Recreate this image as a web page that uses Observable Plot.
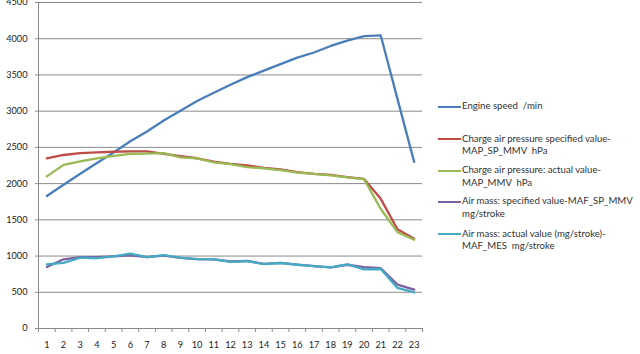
<!DOCTYPE html>
<html><head><meta charset="utf-8">
<script src="https://cdn.jsdelivr.net/npm/d3@7"></script>
<script src="https://cdn.jsdelivr.net/npm/@observablehq/plot@0.6"></script>
<style>
body{margin:0;background:#fff;}
#wrap{position:relative;width:640px;height:354px;font-family:Lato, "Liberation Sans", sans-serif;}
#legend .item{position:absolute;left:438px;display:flex;align-items:flex-start;font-size:9.6px;line-height:12.5px;color:#333;white-space:pre;}
#legend .swatch{width:23px;height:2px;margin-top:5.5px;margin-right:1px;flex:none;}
</style></head><body><div id="wrap"><div id="legend"></div></div>
<script>
const categories = [1,2,3,4,5,6,7,8,9,10,11,12,13,14,15,16,17,18,19,20,21,22,23];
const engineSpeed = [1830,1985,2135,2285,2430,2585,2720,2870,3005,3140,3255,3365,3470,3560,3650,3740,3810,3900,3975,4035,4045,3170,2300];
const mapSpecified = [2350,2395,2420,2432,2440,2445,2445,2410,2378,2350,2305,2272,2250,2218,2195,2158,2135,2120,2090,2065,1790,1370,1240];
const mapActual = [2100,2258,2308,2348,2382,2410,2414,2420,2363,2348,2292,2268,2228,2210,2185,2152,2135,2115,2085,2062,1650,1330,1225];
const mafSpecified = [848,955,985,985,995,1010,985,1005,975,958,955,925,932,892,905,882,862,845,880,848,832,605,537];
const mafActual = [885,905,978,970,995,1033,986,1013,978,958,953,920,930,890,904,880,862,845,885,815,821,560,500];
const yTicks = [0,500,1000,1500,2000,2500,3000,3500,4000,4500];
const seriesNames = [
  "Engine speed  /min",
  "Charge air pressure specified value-MAP_SP_MMV  hPa",
  "Charge air pressure: actual value-MAP_MMV  hPa",
  "Air mass: specified value-MAF_SP_MMV mg/stroke",
  "Air mass: actual value (mg/stroke)-MAF_MES  mg/stroke"
];
const legendLines = [
  ["Engine speed  /min"],
  ["Charge air pressure specified value-", "MAP_SP_MMV  hPa"],
  ["Charge air pressure: actual value-", "MAP_MMV  hPa"],
  ["Air mass: specified value-MAF_SP_MMV", "mg/stroke"],
  ["Air mass: actual value (mg/stroke)-", "MAF_MES  mg/stroke"]
];
const colors = ["#4A7EBB","#BE4B48","#98B954","#7D60A0","#46AAC5"];
const seriesValues = [engineSpeed, mapSpecified, mapActual, mafSpecified, mafActual];

const rows = [];
seriesValues.forEach((vals, si) => vals.forEach((v, i) => rows.push({x: categories[i], value: v, series: seriesNames[si]})));
const bounds = [categories[0] - 0.5, ...categories.map(c => c + 0.5)];

const gray = "#8a8a8a";
const chart = Plot.plot({
  width: 640, height: 354,
  marginLeft: 38, marginRight: 218, marginTop: 2, marginBottom: 26,
  style: {fontFamily: "Lato, 'Liberation Sans', sans-serif", background: "#fff"},
  x: {domain: [bounds[0], bounds[bounds.length - 1]]},
  y: {domain: [0, 4500]},
  color: {domain: seriesNames, range: colors},
  marks: [
    Plot.gridY(yTicks, {stroke: gray, strokeOpacity: 1, strokeWidth: 1}),
    Plot.axisY({ticks: yTicks, tickSize: 3, tickPadding: 8, stroke: gray, fontSize: 9.2, fill: "#222", label: null, tickFormat: d => String(d)}),
    Plot.axisX({ticks: bounds, tickSize: 4, tickFormat: () => "", stroke: gray, label: null}),
    Plot.axisX({ticks: categories, tickSize: 0, tickPadding: 13, fontSize: 9.2, fill: "#222", label: null, tickFormat: d => String(d)}),
    Plot.ruleX([bounds[0]], {stroke: gray}),
    Plot.ruleY([0], {stroke: gray}),
    Plot.line(rows, {x: "x", y: "value", stroke: "series", z: "series", strokeWidth: 2.3, strokeLinejoin: "round", strokeLinecap: "round"})
  ]
});
document.getElementById("wrap").prepend(chart);

const legend = document.getElementById("legend");
const centers = [106.7, 139, 170.7, 201.7, 234];
legendLines.forEach((lines, i) => {
  const item = document.createElement("div");
  item.className = "item";
  item.style.top = (centers[i] - 6.25) + "px";
  const sw = document.createElement("div");
  sw.className = "swatch";
  sw.style.background = colors[i];
  const txt = document.createElement("div");
  txt.textContent = lines.join("\n");
  item.append(sw, txt);
  legend.append(item);
});
</script>
</body></html>
